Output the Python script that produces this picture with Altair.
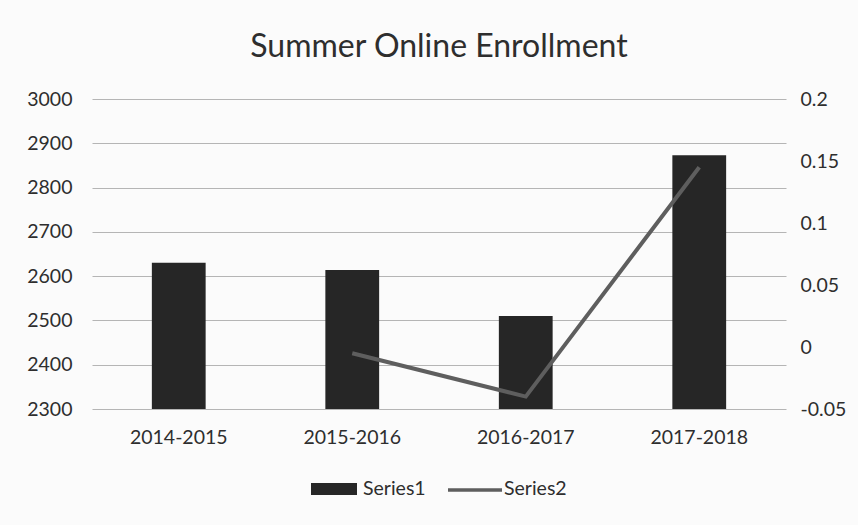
import altair as alt
import pandas as pd

years = ["2014-2015", "2015-2016", "2016-2017", "2017-2018"]
series1 = [2630, 2614, 2510, 2873]
series2 = [None, -0.005, -0.040, 0.145]
left_ticks = [2300, 2400, 2500, 2600, 2700, 2800, 2900, 3000]
right_ticks = [-0.05, 0, 0.05, 0.1, 0.15, 0.2]

df = pd.DataFrame({"year": years, "Series1": series1, "Series2": series2})

FONT = "Lato"
BAR = "#262626"
LINE = "#5e5e5e"
TXT = "#2e2e2e"
FS = 19.5

x_enc = alt.X("year:N", sort=years, title=None,
              scale=alt.Scale(paddingInner=0.69, paddingOuter=0.345),
              axis=alt.Axis(labelAngle=0, labelFontSize=FS, labelColor=TXT, labelPadding=19,
                            domain=False, ticks=False, labelFont=FONT))

bars = alt.Chart(df).mark_bar(color=BAR, clip=True).encode(
    x=x_enc,
    y=alt.Y("Series1:Q", title=None,
            scale=alt.Scale(domain=[2300, 3000], zero=False, nice=False),
            axis=alt.Axis(values=left_ticks, orient="left", grid=True, gridColor="#b5b5b5",
                          gridWidth=1.2, domain=False, ticks=False, labelFontSize=FS, format="d",
                          labelColor=TXT, labelPadding=20, labelFont=FONT)),
    y2=alt.datum(2300),
)

line = alt.Chart(df).mark_line(color=LINE, strokeWidth=4).transform_filter(
    "isValid(datum.Series2)"
).encode(
    x=alt.X("year:N", sort=years),
    y=alt.Y("Series2:Q", title=None,
            scale=alt.Scale(domain=[-0.05, 0.2], zero=False, nice=False),
            axis=alt.Axis(values=right_ticks, orient="right", grid=False, domain=False, ticks=False,
                          labelFontSize=FS, labelColor=TXT, labelPadding=14, labelFont=FONT,
                          labelExpr="replace(format(datum.value, '.2~f'), '\u2212', '-')")),
)

one = alt.Data(values=[{"a": 1}])
leg_rect = alt.Chart(one).mark_rect(color=BAR).encode(
    x=alt.value(219), x2=alt.value(265), y=alt.value(384), y2=alt.value(396))
leg_line = alt.Chart(one).mark_rule(color=LINE, strokeWidth=3.5).encode(
    x=alt.value(356), x2=alt.value(410), y=alt.value(391))
leg_t1 = alt.Chart(one).mark_text(align="left", baseline="middle", fontSize=FS, color=TXT, font=FONT).encode(
    x=alt.value(271), y=alt.value(390), text=alt.value("Series1"))
leg_t2 = alt.Chart(one).mark_text(align="left", baseline="middle", fontSize=FS, color=TXT, font=FONT).encode(
    x=alt.value(412), y=alt.value(390), text=alt.value("Series2"))

chart = alt.layer(bars, line, leg_rect, leg_line, leg_t1, leg_t2).resolve_scale(
    y="independent"
).properties(
    width=694, height=310,
    autosize=alt.AutoSizeParams(type="none"),
    padding={"left": 92, "top": 99, "right": 72, "bottom": 116},
    background="#fbfbfb",
    title=alt.TitleParams("Summer Online Enrollment", fontSize=32, font=FONT, fontWeight="normal",
                          color=TXT, anchor="middle", offset=25),
).configure_view(stroke=None)

chart.save("out.html", embed_options={"renderer": "svg", "actions": False})
